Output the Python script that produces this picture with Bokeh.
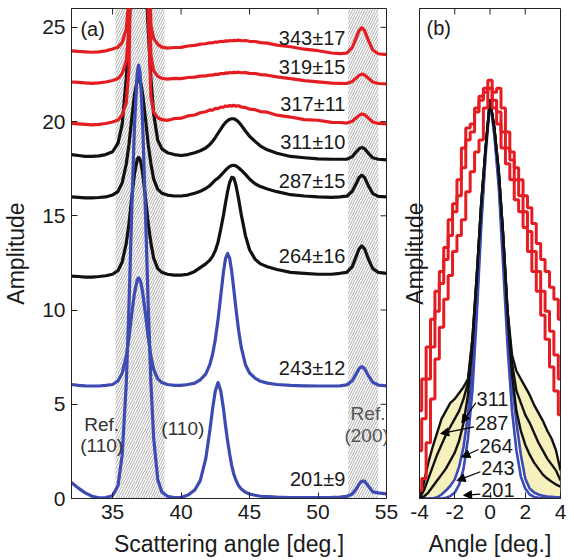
import math
from bokeh.plotting import figure
from bokeh.models import FixedTicker, Range1d, BoxAnnotation, Label, Arrow, NormalHead
from bokeh.layouts import row
from bokeh.embed import file_html
from bokeh.resources import INLINE

FONT = "Liberation Sans"
RED = "#e41d23"
BLUE = "#3c4ab2"
BLACK = "#111111"
YELLOW = "#f6f0bd"
FRAME = "#222222"

# ---------------- panel (a) data ----------------
angle = [32, 32.5, 33, 33.5, 34, 34.5, 35,
         35.4, 35.7, 36.0, 36.2, 36.4, 36.6, 36.8, 36.9, 37.0, 37.1, 37.2, 37.4, 37.6, 37.8, 38.0, 38.3, 38.6,
         39.0, 39.5, 40.0, 40.5, 41.0, 41.4, 41.8,
         42.1, 42.3, 42.5, 42.7, 42.9, 43.1, 43.25, 43.4, 43.55, 43.7, 43.85, 44.0, 44.2, 44.4, 44.7, 45.0, 45.4, 45.8, 46.3,
         47.0, 48.0, 49.0, 50.0, 51.0, 51.6,
         52.1, 52.5, 52.8, 53.0, 53.2, 53.4, 53.7, 54.0, 54.4, 55.0]

amp_201 = [0.85, 0.55, 0.30, 0.12, 0.04, 0.05, 0.15,
           0.70, 2.3, 6.1, 10.3, 15.3, 19.8, 22.6, 23.0, 22.6, 21.5, 19.8, 15.2, 10.3, 6.1, 3.2, 1.0, 0.35,
           0.12, 0.05, 0.05, 0.18, 0.45, 0.95, 2.1,
           3.6, 4.75, 5.7, 6.15, 5.7, 4.75, 3.85, 3.05, 2.35, 1.75, 1.3, 0.98, 0.68, 0.5, 0.33, 0.24, 0.17, 0.12, 0.1,
           0.07, 0.05, 0.05, 0.05, 0.06, 0.08,
           0.11, 0.24, 0.52, 0.76, 0.92, 0.92, 0.64, 0.35, 0.3, 0.25]

amp_243 = [6.05, 6.0, 5.98, 5.97, 5.97, 6.0, 6.05,
           6.25, 6.65, 7.55, 8.55, 9.8, 10.9, 11.6, 11.7, 11.6, 11.35, 10.9, 9.8, 8.55, 7.55, 6.85, 6.35, 6.15,
           6.05, 6.0, 6.0, 6.05, 6.12, 6.3, 6.6,
           7.1, 7.64, 8.43, 9.5, 10.77, 12.04, 12.74, 13.0, 12.74, 12.04, 11.1, 10.12, 8.93, 8.0, 7.1, 6.66, 6.39, 6.22, 6.12,
           6.05, 6.0, 5.98, 5.97, 5.97, 5.98,
           6.03, 6.25, 6.64, 6.89, 7.0, 6.89, 6.49, 6.16, 6.02, 5.98]

amp_264 = [11.8, 11.78, 11.75, 11.75, 11.78, 11.82, 11.9,
           12.1, 12.55, 13.55, 14.6, 15.97, 17.23, 18.0, 18.1, 18.0, 17.7, 17.23, 15.97, 14.6, 13.55, 12.75, 12.2, 12.0,
           11.9, 11.85, 11.85, 11.9, 12.05, 12.25, 12.45,
           12.65, 12.85, 13.15, 13.6, 14.3, 15.05, 15.7, 16.3, 16.78, 17.04, 17.0, 16.65, 15.9, 15.05, 13.95, 13.2, 12.7, 12.45, 12.3,
           12.15, 12.0, 11.95, 11.9, 11.9, 11.95,
           12.0, 12.3, 12.87, 13.25, 13.4, 13.25, 12.66, 12.2, 12.0, 11.95]

amp_287 = [16.0, 15.98, 15.95, 15.95, 15.97, 16.0, 16.1,
           16.3, 16.75, 17.75, 18.8, 20.17, 21.43, 22.2, 22.3, 22.2, 21.9, 21.43, 20.17, 18.8, 17.75, 16.95, 16.4, 16.2,
           16.1, 16.05, 16.05, 16.1, 16.2, 16.3, 16.45,
           16.6, 16.75, 16.9, 17.0, 17.15, 17.3, 17.42, 17.53, 17.62, 17.67, 17.68, 17.65, 17.55, 17.42, 17.2, 16.95, 16.7, 16.55, 16.42,
           16.28, 16.12, 16.05, 16.0, 15.98, 16.0,
           16.04, 16.3, 16.73, 17.03, 17.15, 17.03, 16.56, 16.18, 16.03, 16.0]

amp_311 = [18.25, 18.2, 18.15, 18.15, 18.18, 18.25, 18.4,
           18.86, 19.85, 22.3, 24.9, 28.1, 31.1, 32.96, 33.2, 32.96, 32.2, 31.1, 28.1, 24.9, 22.3, 20.4, 19.0, 18.55,
           18.35, 18.25, 18.2, 18.25, 18.35, 18.45, 18.6,
           18.78, 18.95, 19.15, 19.38, 19.6, 19.82, 19.95, 20.05, 20.12, 20.15, 20.15, 20.1, 19.98, 19.8, 19.5, 19.22, 18.95, 18.7, 18.5,
           18.32, 18.15, 18.08, 18.02, 18.0, 18.0,
           18.0, 18.14, 18.4, 18.56, 18.63, 18.56, 18.3, 18.08, 18.0, 17.97]

amp_317 = [19.9, 19.88, 19.85, 19.82, 19.85, 19.9, 19.98,
           20.08, 20.35, 21.0, 22.8, 33.0, 63.0, 112.0, 119.0, 119.0, 106.0, 85.0, 45.0, 26.0, 21.3, 20.5, 20.2, 20.1,
           20.06, 20.16, 20.18, 20.3, 20.35, 20.47, 20.52,
           20.62, 20.6, 20.7, 20.69, 20.77, 20.76, 20.83, 20.8, 20.85, 20.82, 20.86, 20.82, 20.84, 20.77, 20.75, 20.66, 20.63, 20.53, 20.5,
           20.34, 20.24, 20.1, 20.07, 19.96, 19.95,
           19.92, 20.02, 20.2, 20.33, 20.4, 20.36, 20.17, 19.98, 19.9, 19.88]

amp_319 = [22.1, 22.08, 22.05, 22.03, 22.05, 22.1, 22.18,
           22.28, 22.55, 23.2, 25.0, 35.0, 65.0, 114.0, 121.0, 121.0, 108.0, 87.0, 47.0, 28.2, 23.5, 22.7, 22.4, 22.3,
           22.25, 22.29, 22.28, 22.34, 22.36, 22.41, 22.42,
           22.47, 22.46, 22.51, 22.5, 22.55, 22.54, 22.58, 22.57, 22.6, 22.59, 22.61, 22.6, 22.62, 22.59, 22.6, 22.56, 22.55, 22.49, 22.46,
           22.37, 22.28, 22.17, 22.11, 22.04, 22.03,
           22.02, 22.13, 22.32, 22.45, 22.52, 22.47, 22.28, 22.1, 22.02, 22.0]

amp_343 = [23.75, 23.72, 23.7, 23.68, 23.7, 23.75, 23.85,
           23.95, 24.2, 24.9, 26.6, 37.0, 67.0, 116.0, 123.0, 123.0, 110.0, 89.0, 49.0, 29.8, 25.1, 24.4, 24.1, 23.95,
           23.9, 23.93, 23.94, 24.01, 24.04, 24.11, 24.13,
           24.18, 24.18, 24.22, 24.22, 24.26, 24.25, 24.28, 24.27, 24.3, 24.29, 24.31, 24.3, 24.32, 24.29, 24.3, 24.26, 24.25, 24.19, 24.16,
           24.06, 23.97, 23.84, 23.76, 23.64, 23.61,
           23.63, 23.93, 24.47, 24.83, 24.98, 24.83, 24.27, 23.8, 23.6, 23.55]

curve_labels = ["343\u00b117", "319\u00b115", "317\u00b111", "311\u00b110",
                "287\u00b115", "264\u00b116", "243\u00b112", "201\u00b19"]

a_xticks = [35, 40, 45, 50, 55]
a_yticks = [0, 5, 10, 15, 20, 25]

# ---------------- panel (b) data ----------------
ang_b = [-4, -3.75, -3.5, -3.25, -3, -2.75, -2.5, -2.25, -2, -1.75, -1.5, -1.25, -1, -0.75, -0.5, -0.25,
         0, 0.25, 0.5, 0.75, 1, 1.25, 1.5, 1.75, 2, 2.25, 2.5, 2.75, 3, 3.25, 3.5, 3.75, 4]

red_a = [0.22, 0.30, 0.38, 0.45, 0.52, 0.57, 0.63, 0.70, 0.74, 0.80, 0.88, 0.93, 0.94, 0.98, 1.01, 1.03,
         1.05, 1.02, 1.03, 0.98, 0.92, 0.87, 0.83, 0.80, 0.76, 0.73, 0.69, 0.64, 0.60, 0.57, 0.53, 0.50, 0.45]
red_b = [0.12, 0.20, 0.30, 0.38, 0.47, 0.54, 0.60, 0.66, 0.72, 0.76, 0.83, 0.90, 0.92, 0.97, 1.00, 1.02,
         1.03, 1.00, 0.97, 0.92, 0.88, 0.85, 0.80, 0.76, 0.72, 0.67, 0.62, 0.57, 0.52, 0.47, 0.42, 0.36, 0.30]
red_c = [0.02, 0.05, 0.14, 0.25, 0.35, 0.43, 0.50, 0.56, 0.62, 0.66, 0.70, 0.77, 0.82, 0.87, 0.90, 0.98,
         1.03, 0.98, 0.94, 0.88, 0.84, 0.80, 0.75, 0.72, 0.68, 0.62, 0.57, 0.52, 0.46, 0.40, 0.33, 0.27, 0.21]

b311 = [0.0, 0.04, 0.09, 0.13, 0.165, 0.2, 0.22, 0.24, 0.25, 0.265, 0.28, 0.3, 0.4, 0.56, 0.74, 0.88,
        1.0, 0.93, 0.82, 0.66, 0.47, 0.36, 0.32, 0.3, 0.28, 0.26, 0.235, 0.215, 0.195, 0.17, 0.15, 0.12, 0.07]
b287 = [0.0, 0.02, 0.05, 0.08, 0.11, 0.135, 0.16, 0.18, 0.2, 0.22, 0.25, 0.29, 0.4, 0.56, 0.74, 0.88,
        1.0, 0.93, 0.82, 0.66, 0.47, 0.34, 0.27, 0.24, 0.21, 0.19, 0.165, 0.14, 0.12, 0.1, 0.085, 0.07, 0.045]
b264 = [0.0, 0.005, 0.015, 0.03, 0.045, 0.06, 0.075, 0.095, 0.115, 0.145, 0.19, 0.26, 0.38, 0.56, 0.74, 0.88,
        1.0, 0.93, 0.82, 0.66, 0.46, 0.31, 0.22, 0.17, 0.135, 0.11, 0.09, 0.075, 0.06, 0.05, 0.042, 0.035, 0.03]
b243 = [0.0, 0.0, 0.0, 0.0, 0.003, 0.01, 0.02, 0.032, 0.048, 0.08, 0.13, 0.21, 0.32, 0.5, 0.7, 0.87,
        1.0, 0.92, 0.8, 0.62, 0.44, 0.29, 0.19, 0.11, 0.05, 0.025, 0.015, 0.01, 0.007, 0.005, 0.004, 0.003, 0.003]
b201 = [0.0, 0.0, 0.0, 0.0, 0.0, 0.0, 0.002, 0.006, 0.015, 0.035, 0.075, 0.15, 0.27, 0.46, 0.68, 0.86,
        1.0, 0.91, 0.78, 0.58, 0.38, 0.22, 0.12, 0.055, 0.025, 0.01, 0.004, 0.002, 0.002, 0.002, 0.002, 0.002, 0.002]

b_labels = ["311", "287", "264", "243", "201"]
b_xticks = [-4, -2, 0, 2, 4]
b_top_ticks = [-2, 0, 2]


def style(ax, ticks, overrides=None):
    ax.ticker = FixedTicker(ticks=ticks)
    ax.major_tick_in = 6
    ax.major_tick_out = 0
    ax.minor_tick_in = 0
    ax.minor_tick_out = 0
    ax.axis_line_color = FRAME
    ax.major_tick_line_color = FRAME
    ax.major_label_text_font = FONT
    ax.major_label_text_font_size = "21px"
    ax.major_label_text_color = "#1a1a1a"
    ax.major_label_standoff = 6
    ax.axis_label_text_font = FONT
    ax.axis_label_text_font_size = "23px"
    ax.axis_label_text_font_style = "normal"
    ax.axis_label_text_color = "#1a1a1a"
    if overrides:
        ax.major_label_overrides = overrides


def lab(p, x, y, t, size="20px", color="#1a1a1a", align="left"):
    p.add_layout(Label(x=x, y=y, text=t, text_align=align, text_baseline="middle",
                       text_font=FONT, text_font_size=size, text_color=color))


# ---------------- panel (a) ----------------
XA = Range1d(32, 55)
YA = Range1d(0, 26)
p1 = figure(width=398, height=560, x_range=XA, y_range=YA,
            output_backend="svg", toolbar_location=None,
            min_border_left=69, min_border_right=12, min_border_top=8, min_border_bottom=62,
            background_fill_color="white", border_fill_color="white")
p1.grid.visible = False
p1.outline_line_color = FRAME
style(p1.xaxis[0], a_xticks)
p1.xaxis[0].axis_label = "Scattering angle [deg.]"
p1.xaxis[0].axis_label_standoff = 9
style(p1.yaxis[0], a_yticks)
p1.yaxis[0].axis_label = "Amplitude"
p1.yaxis[0].axis_label_standoff = 10

# inward tick marks on the top and right edges of the box
top_a = [t for t in a_xticks if XA.start < t < XA.end]
right_a = [t for t in a_yticks if YA.start < t <= YA.end]
p1.scatter(x=top_a, y=[YA.end] * len(top_a), marker="dash", size=12, angle=math.pi / 2,
           line_color=FRAME, line_width=1)
p1.scatter(x=[XA.end] * len(right_a), y=right_a, marker="dash", size=12,
           line_color=FRAME, line_width=1)

for lft, rgt in [(35.2, 38.8), (52.2, 54.4)]:
    p1.add_layout(BoxAnnotation(left=lft, right=rgt, fill_alpha=0, line_alpha=0,
                                hatch_pattern="/", hatch_color="#ababab", hatch_scale=5,
                                hatch_weight=1, level="underlay"))

lw = 3.2
for ys in [amp_264, amp_287, amp_311]:
    p1.line(angle, ys, line_color=BLACK, line_width=lw, line_join="round")
for ys in [amp_201, amp_243]:
    p1.line(angle, ys, line_color=BLUE, line_width=lw, line_join="round")
for ys in [amp_317, amp_319, amp_343]:
    p1.line(angle, ys, line_color=RED, line_width=lw, line_join="round")

label_y = [24.46, 22.87, 20.95, 18.89, 16.87, 12.89, 6.9, 1.06]
for txt, yy in zip(curve_labels, label_y):
    lab(p1, 52.0, yy, txt, align="right")

lab(p1, 32.65, 24.93, "(a)")
lab(p1, 34.2, 3.93, "Ref.", "19px", "#333333", "center")
lab(p1, 34.2, 2.81, "(110)", "19px", "#333333", "center")
lab(p1, 40.13, 3.74, "(110)", "19px", "#333333", "center")
lab(p1, 53.65, 4.5, "Ref.", "19px", "#555555", "center")
lab(p1, 53.55, 3.34, "(200)", "19px", "#555555", "center")

# ---------------- panel (b) ----------------
XB = Range1d(-4, 4)
YB = Range1d(0, 1.23)
p2 = figure(width=176, height=560, x_range=XB, y_range=YB,
            output_backend="svg", toolbar_location=None,
            min_border_left=14, min_border_right=14, min_border_top=8, min_border_bottom=62,
            background_fill_color="white", border_fill_color="white")
p2.grid.visible = False
p2.outline_line_color = FRAME
style(p2.xaxis[0], b_xticks, overrides={t: str(t).replace("\u2212", "-") for t in b_xticks})
p2.xaxis[0].axis_label = "Angle [deg.]"
p2.xaxis[0].axis_label_standoff = 9
style(p2.yaxis[0], [])
p2.yaxis[0].major_label_standoff = 0
p2.yaxis[0].axis_label = "Amplitude"
p2.yaxis[0].axis_label_standoff = -8
p2.scatter(x=b_top_ticks, y=[YB.end] * len(b_top_ticks), marker="dash", size=12, angle=math.pi / 2,
           line_color=FRAME, line_width=1)

p2.varea(x=ang_b, y1=b243, y2=b311, fill_color=YELLOW)
p2.line(ang_b, b201, line_color=BLUE, line_width=2.6)
p2.line(ang_b, b243, line_color=BLUE, line_width=2.6)
for ys in [b264, b287, b311]:
    p2.line(ang_b, ys, line_color=BLACK, line_width=2.4, line_join="round")
for ys in [red_a, red_b, red_c]:
    p2.step(ang_b, ys, mode="center", line_color=RED, line_width=3)

lab(p2, -3.6, 1.18, "(b)")
b_label_pos = [(-0.76, 0.25), (-0.85, 0.19), (-0.6, 0.133), (-0.5, 0.077), (-0.5, 0.021)]
arrow_heads = [(-1.6, 0.19), (-2.8, 0.163), (-1.6, 0.104), (-1.87, 0.045), (-1.5, 0.008)]
for t, (tx, ty), (hx, hy) in zip(b_labels, b_label_pos, arrow_heads):
    lab(p2, tx, ty, t)
    p2.add_layout(Arrow(end=NormalHead(size=8, fill_color="black", line_color="black"),
                        x_start=tx - 0.05, y_start=ty - 0.01, x_end=hx, y_end=hy,
                        line_color="black", line_width=1.2))

layout = row(p1, p2)
open("out.html", "w").write(file_html(layout, INLINE))
